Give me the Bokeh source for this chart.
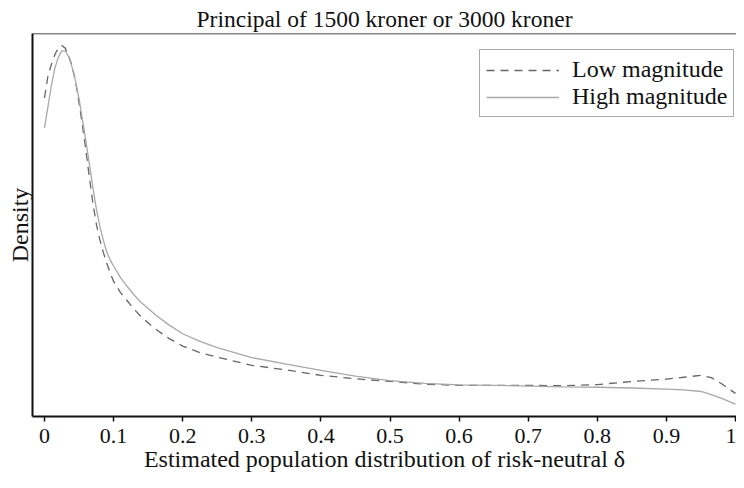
from bokeh.plotting import figure
from bokeh.models import FixedTicker, Span, Legend, LegendItem, ColumnDataSource, Range1d
from bokeh.embed import file_html
from bokeh.resources import INLINE

# ---- data ----
x_grid = [0.0, 0.005, 0.01, 0.015, 0.02, 0.025, 0.03, 0.035, 0.04, 0.045, 0.05, 0.055,
          0.06, 0.065, 0.07, 0.075, 0.08, 0.085, 0.09, 0.095, 0.10, 0.11, 0.12, 0.13, 0.14,
          0.16, 0.18, 0.20, 0.225, 0.25, 0.30, 0.35, 0.40, 0.45, 0.50, 0.55, 0.60, 0.65,
          0.70, 0.75, 0.80, 0.85, 0.90, 0.925, 0.95, 0.965, 0.98, 1.0]
low_magnitude = [8.33, 8.90, 9.20, 9.45, 9.62, 9.69, 9.62, 9.42, 9.15, 8.75, 8.20, 7.60,
                 6.95, 6.25, 5.60, 5.05, 4.65, 4.32, 4.04, 3.78, 3.56, 3.27, 3.05, 2.83, 2.64,
                 2.33, 2.08, 1.88, 1.71, 1.59, 1.38, 1.26, 1.12, 1.03, 0.96, 0.89, 0.86, 0.86,
                 0.86, 0.85, 0.88, 0.96, 1.02, 1.07, 1.12, 1.06, 0.90, 0.65]
high_magnitude = [7.55, 8.10, 8.65, 9.10, 9.38, 9.55, 9.55, 9.40, 9.12, 8.75, 8.30, 7.75,
                  7.20, 6.60, 6.00, 5.45, 5.00, 4.64, 4.33, 4.12, 3.96, 3.66, 3.42, 3.20, 3.01,
                  2.70, 2.43, 2.20, 2.00, 1.84, 1.58, 1.41, 1.25, 1.10, 0.98, 0.91, 0.87, 0.86,
                  0.84, 0.82, 0.81, 0.79, 0.76, 0.74, 0.70, 0.62, 0.52, 0.37]
tick_values = [0, 0.1, 0.2, 0.3, 0.4, 0.5, 0.6, 0.7, 0.8, 0.9, 1]
tick_labels = ["0", "0.1", "0.2", "0.3", "0.4", "0.5", "0.6", "0.7", "0.8", "0.9", "1"]
series_names = ["Low magnitude", "High magnitude"]

FONT = "Liberation Serif"
INK = "#111111"

p = figure(width=736, height=480, output_backend="svg", toolbar_location=None,
           x_range=Range1d(-0.01737, 1.00145), y_range=Range1d(0.05, 10),
           title="Principal of 1500 kroner or 3000 kroner",
           min_border_left=32, min_border_right=0, min_border_top=33, min_border_bottom=64)

p.title.align = "center"
p.title.text_font = FONT
p.title.text_font_size = "23.5px"
p.title.text_font_style = "normal"
p.title.text_color = INK
p.title.standoff = 4

p.outline_line_color = None
p.xgrid.visible = False
p.ygrid.visible = False
p.background_fill_color = "white"
p.border_fill_color = "white"

# x axis
xa = p.xaxis[0]
xa.ticker = FixedTicker(ticks=tick_values)
xa.major_label_overrides = {v: l for v, l in zip(tick_values, tick_labels)}
xa.minor_tick_line_color = None
xa.major_tick_in = 0
xa.major_tick_out = 5
xa.major_tick_line_width = 1.5
xa.major_tick_line_color = INK
xa.axis_line_width = 2
xa.axis_line_color = INK
xa.major_label_text_font = FONT
xa.major_label_text_font_size = "22px"
xa.major_label_text_color = INK
xa.major_label_standoff = 7
xa.axis_label = "Estimated population distribution of risk-neutral \u03b4"
xa.axis_label_text_font = FONT
xa.axis_label_text_font_size = "24px"
xa.axis_label_text_font_style = "normal"
xa.axis_label_text_color = INK
xa.axis_label_standoff = 0

# y axis (no ticks)
ya = p.yaxis[0]
ya.ticker = FixedTicker(ticks=[])
ya.minor_tick_line_color = None
ya.major_tick_line_color = None
ya.axis_line_width = 2
ya.axis_line_color = INK
ya.axis_label = "Density"
ya.axis_label_text_font = FONT
ya.axis_label_text_font_size = "24px"
ya.axis_label_text_font_style = "normal"
ya.axis_label_text_color = INK
ya.axis_label_standoff = 0

# top frame line
p.add_layout(Span(location=10, dimension="width", line_color=INK, line_width=1.5))

src = ColumnDataSource(dict(x=x_grid, low=low_magnitude, high=high_magnitude))
r_low = p.line("x", "low", source=src, line_color="#666666", line_width=1.3, line_dash="8 6")
r_high = p.line("x", "high", source=src, line_color="#a8a8a8", line_width=1.3)

legend = Legend(items=[LegendItem(label=series_names[0], renderers=[r_low]),
                       LegendItem(label=series_names[1], renderers=[r_high])],
                location=(447, 299), glyph_width=73, glyph_height=24, label_height=24,
                label_standoff=13, spacing=0, padding=6, margin=0,
                label_text_font=FONT, label_text_font_size="24px", label_text_color=INK,
                border_line_color="#555555", border_line_width=1, background_fill_alpha=1)
p.add_layout(legend, "center")

open("out.html", "w").write(file_html(p, INLINE))
